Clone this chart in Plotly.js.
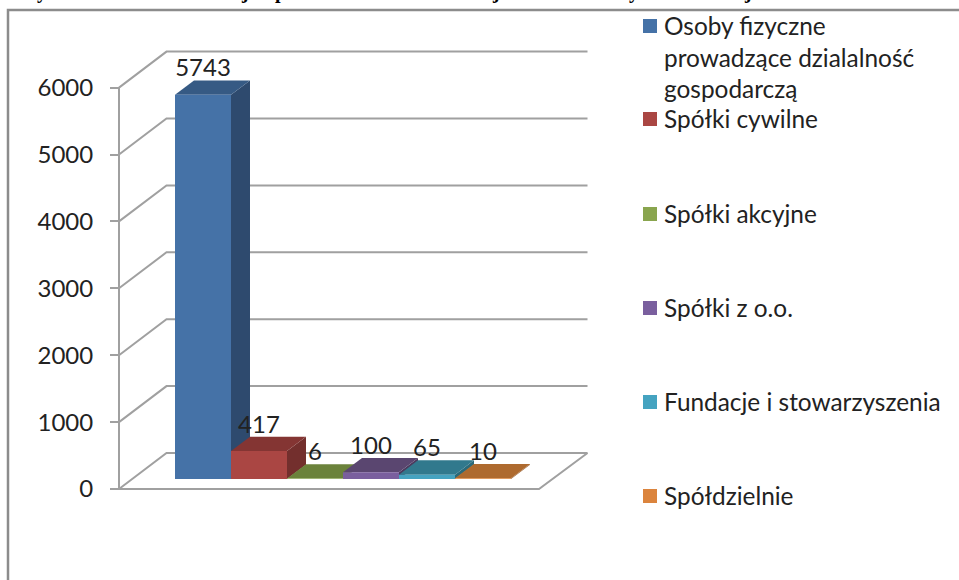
<!DOCTYPE html>
<html><head><meta charset="utf-8">
<script src="https://cdn.plot.ly/plotly-3.0.1.min.js"></script>
<style>html,body{margin:0;padding:0;background:#fff;overflow:hidden}#c{width:959px;height:580px}</style>
</head><body><div id="c"></div>
<script>
const categories = ["Osoby fizyczne<br>prowadzące dzialalność<br>gospodarczą","Spółki cywilne","Spółki akcyjne","Spółki z o.o.","Fundacje i stowarzyszenia","Spółdzielnie"];
const values = [5743,417,6,100,65,10];
const frontColors = ["#4572a7","#aa4643","#89a54e","#7a5f9e","#45a3c0","#db843d"];
const topColors = ["#365a84","#843533","#6b823b","#5a4670","#31798d","#ae6a2f"];
const sideColors = ["#2e4a6e","#732f2d","#5c7032","#4b3a5e","#2a6a7a","#96592a"];
const tickValues = [0,1000,2000,3000,4000,5000,6000];
const titleFragments = ["y","j","p","j","y","j"];

const W=959,H=580,Y0=489,PX_PER_1000=66.9;
const U=1000/PX_PER_1000;               // value units per pixel
const yOf=p=>(Y0-p)*U;                  // page row -> value axis
const yRange=[yOf(H),yOf(0)], xRange=[0,W];
const LEFT=119,RIGHT=539,WALL_DX=47.5,WALL_DY=36*U;
const BAR_X=175,BAR_W=56,BAR_BASE=10*U,DEPTH_X=19,DEPTH_Y=14.3*U;
const GRID="#a0a0a0";

const traces=[];
// wall, floor and axis lines
let gx=[],gy=[];
tickValues.forEach(v=>{gx.push(LEFT,LEFT+WALL_DX,RIGHT+WALL_DX+1,null);gy.push(v,v+WALL_DY,v+WALL_DY,null);});
gx.push(LEFT,LEFT,null,LEFT,RIGHT,RIGHT+WALL_DX+1);gy.push(0,6000,null,0,0,WALL_DY);
traces.push({type:"scatter",mode:"lines",x:gx,y:gy,line:{color:GRID,width:2},hoverinfo:"skip",showlegend:false,cliponaxis:false});

values.forEach((v,i)=>{
  const x0=BAR_X+i*BAR_W,x1=x0+BAR_W,t=BAR_BASE+v;
  traces.push({type:"scatter",mode:"lines",fill:"toself",fillcolor:sideColors[i],line:{width:0},hoverinfo:"skip",showlegend:false,
    x:[x1,x1,x1+DEPTH_X,x1+DEPTH_X,x1],y:[BAR_BASE,t,t+DEPTH_Y,BAR_BASE+DEPTH_Y,BAR_BASE]});
  traces.push({type:"scatter",mode:"lines",fill:"toself",fillcolor:topColors[i],line:{width:0},hoverinfo:"skip",showlegend:false,
    x:[x0,x1,x1+DEPTH_X,x0+DEPTH_X,x0],y:[t,t,t+DEPTH_Y,t+DEPTH_Y,t]});
});
values.forEach((v,i)=>{
  traces.push({type:"bar",xaxis:"x2",yaxis:"y2",x:[BAR_X+(i+.5)*BAR_W],y:[v],base:[BAR_BASE],width:[BAR_W],
    marker:{color:frontColors[i],line:{width:0}},name:categories[i],showlegend:false});
});
traces.push({type:"scatter",mode:"text",xaxis:"x2",yaxis:"y2",x:values.map((v,i)=>BAR_X+(i+.5)*BAR_W),
  y:values.map(v=>BAR_BASE+v+DEPTH_Y+10*U),text:values.map(String),textposition:"middle center",
  textfont:{family:"Lato",size:24,color:"#222"},hoverinfo:"skip",showlegend:false,cliponaxis:false});

const ROW_CENTERS=[26,119,214,308,402,496];
const shapes=[
  {type:"path",xref:"x",yref:"y",path:`M8,${yOf(580)}L8,${yOf(10)}L959,${yOf(10)}`,line:{color:"#8c8c8c",width:2.5}}
];
const annotations=[];
categories.forEach((c,i)=>{
  const r=ROW_CENTERS[i];
  shapes.push({type:"rect",xref:"x",yref:"y",x0:643,x1:657,y0:yOf(r-7),y1:yOf(r+7),fillcolor:frontColors[i],line:{width:0}});
  annotations.push({xref:"x",yref:"y",x:663,y:yOf(r-16.5),xanchor:"left",yanchor:"top",align:"left",showarrow:false,
    text:c,font:{family:"Lato",size:24.4,color:"#222"},borderpad:0});
});
const FRAG_X=[42,245,280,496,634,748];
titleFragments.forEach((s,i)=>annotations.push({xref:"x",yref:"paper",x:FRAG_X[i],y:1,yanchor:"bottom",yshift:-4,showarrow:false,
  text:"<b>"+s+"</b>",font:{family:"Liberation Serif",size:20,color:"#000"},borderpad:0}));

const layout={width:W,height:H,margin:{l:0,r:0,t:0,b:0},paper_bgcolor:"#fff",plot_bgcolor:"#fff",showlegend:false,barmode:"overlay",
  xaxis:{range:xRange,visible:false,fixedrange:true},
  yaxis:{range:yRange,anchor:"free",position:LEFT/W,tickmode:"array",tickvals:tickValues,ticktext:tickValues.map(String),
    ticks:"outside",ticklen:9,tickwidth:2,tickcolor:GRID,showgrid:false,zeroline:false,showline:false,ticklabelstandoff:12,
    tickfont:{family:"Lato",size:24,color:"#222"},fixedrange:true},
  xaxis2:{range:xRange,overlaying:"x",visible:false,anchor:"y2"},
  yaxis2:{range:yRange,overlaying:"y",visible:false,anchor:"x2"},
  shapes,annotations};
Plotly.newPlot("c",traces,layout,{displayModeBar:false,staticPlot:true});
</script></body></html>
